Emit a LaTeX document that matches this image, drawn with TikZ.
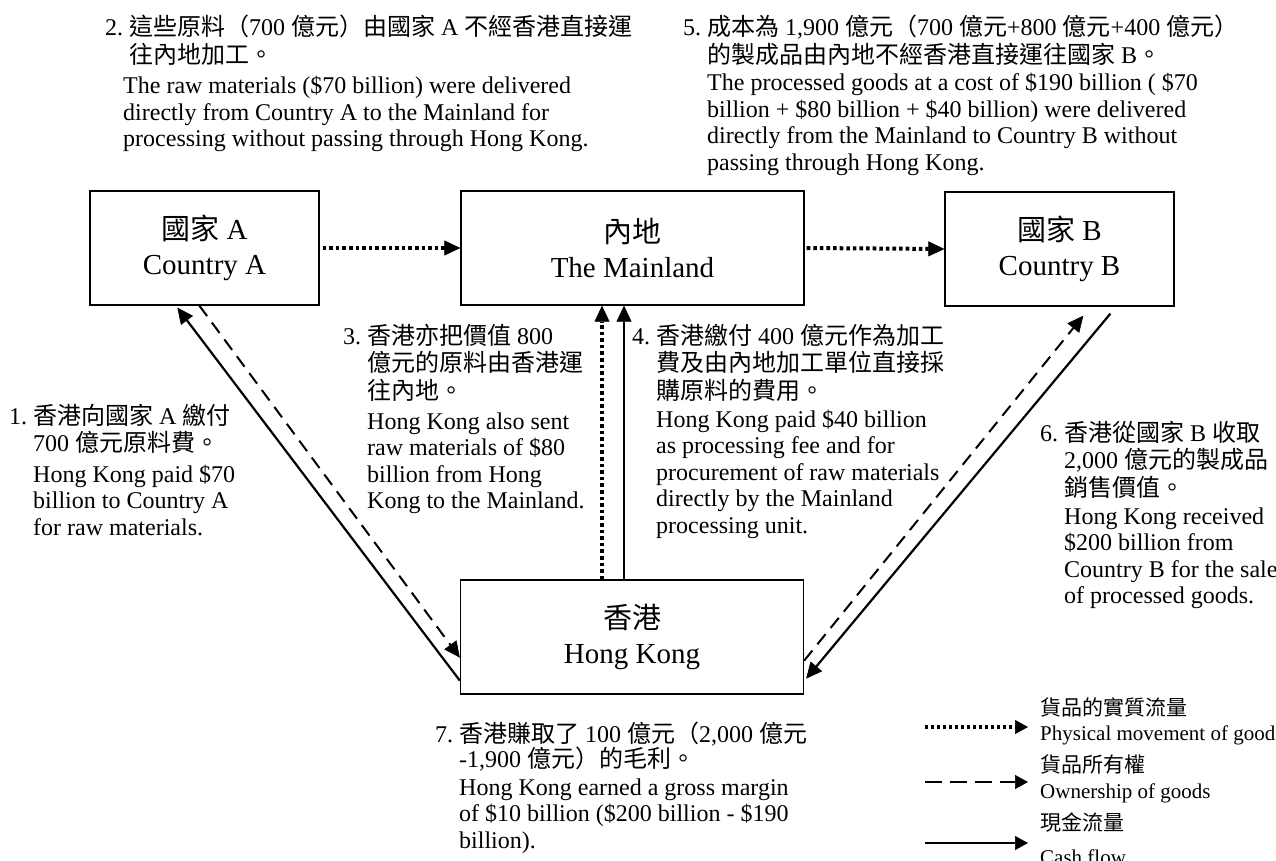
\documentclass[tikz,border=0pt]{standalone}
\usepackage{fontspec}
\setmainfont{Liberation Serif}
\newfontfamily\cjkfont{Noto Sans CJK TC}
\usetikzlibrary{arrows.meta,calc}
\newcommand\zh[1]{{\cjkfont #1}}
\tikzset{
  box/.style={draw, line width=1.3pt, inner sep=0pt, minimum width=229pt, minimum height=114pt, align=center, font=\fontsize{29}{35}\selectfont},
  wbox/.style={box, minimum width=343pt},
  body/.style={inner sep=0pt, anchor=base west, align=left, font=\fontsize{24}{26.5}\selectfont},
  bodyzh/.style={body, font=\fontsize{24}{27.5}\selectfont},
  leg/.style={inner sep=0pt, anchor=base west, font=\fontsize{21}{23}\selectfont},
  tip/.style={-{Triangle[length=16pt,width=15pt,line width=0.6pt]}},
  dotline/.style={tip, line width=4pt, dash pattern=on 3.6pt off 3pt},
  dashline/.style={tip, line width=2pt, dash pattern=on 13pt off 8pt},
  cashline/.style={tip, line width=2.2pt},
  legtip/.style={-{Triangle[length=13pt,width=14pt,line width=0.6pt]}},
  legdot/.style={legtip, line width=3.2pt, dash pattern=on 3pt off 3pt},
  legdash/.style={legtip, line width=2.2pt, dash pattern=on 17pt off 8pt},
  legcash/.style={legtip, line width=2.4pt},
}
\begin{document}
\begin{tikzpicture}[x=1pt,y=-1pt]
\useasboundingbox (0,0) rectangle (1276,861);

% boxes
\node[box]  (A)  at (204.5,248) {\zh{國家} A\\Country A};
\node[wbox] (M)  at (632.5,248) {\zh{內地}\\The Mainland};
\node[box]  (B)  at (1059.5,249) {\zh{國家} B\\Country B};
\node[wbox] (HK) at (632,637) {\zh{香港}\\Hong Kong};

% connectors
\draw[dotline] ([xshift=3pt]A.east) -- (M.west);
\draw[dotline] ([xshift=2pt]M.east) -- (B.west);
\draw[dotline] ([xshift=-30pt]HK.north) -- ([xshift=-30.5pt]M.south);
\draw[cashline] ([xshift=-8pt]HK.north) -- ([xshift=-8.5pt]M.south);
\draw[cashline] ([yshift=14pt]HK.south west) -- ([xshift=88pt,yshift=-2pt]A.south west);
\draw[dashline] ([xshift=110pt]A.south west) -- ([yshift=37pt]HK.south west);
\draw[dashline] ([yshift=34pt]HK.south east) -- ([xshift=139pt,yshift=-9pt]B.south west);
\draw[cashline] ([xshift=166pt,yshift=-7pt]B.south west) -- ([xshift=2pt,yshift=16pt]HK.south east);

% text blocks (anchor = baseline of the last line)
\node[bodyzh] (t1z) at (33,451.5) {\llap{1.\hspace{6pt}}\zh{香港向國家} A \zh{繳付}\\700 \zh{億元原料費。}};
\node[body]   (t1e) at (33,535) {Hong Kong paid \$70\\billion to Country A\\for raw materials.};

\node[bodyzh] (t2z) at (129,63.5) {\llap{2.\hspace{6pt}}\zh{這些原料（}700 \zh{億元）由國家} A \zh{不經香港直接運}\\\zh{往內地加工。}};
\node[body]   (t2e) at (123,147) {The raw materials (\$70 billion) were delivered\\directly from Country A to the Mainland for\\processing without passing through Hong Kong.};

\node[bodyzh] (t3z) at (367,399) {\llap{3.\hspace{6pt}}\zh{香港亦把價值} 800\\\zh{億元的原料由香港運}\\\zh{往內地。}};
\node[body]   (t3e) at (367,508.5) {Hong Kong also sent\\raw materials of \$80\\billion from Hong\\Kong to the Mainland.};

\node[bodyzh] (t4z) at (656,399) {\llap{4.\hspace{6pt}}\zh{香港繳付} 400 \zh{億元作為加工}\\\zh{費及由內地加工單位直接採}\\\zh{購原料的費用。}};
\node[body]   (t4e) at (656,533) {Hong Kong paid \$40 billion\\as processing fee and for\\procurement of raw materials\\directly by the Mainland\\processing unit.};

\node[bodyzh] (t5z) at (707,63.5) {\llap{5.\hspace{6pt}}\zh{成本為} 1,900 \zh{億元（}700 \zh{億元}+800 \zh{億元}+400 \zh{億元）}\\\zh{的製成品由內地不經香港直接運往國家} B\zh{。}};
\node[body]   (t5e) at (707,170.5) {The processed goods at a cost of \$190 billion ( \$70\\billion + \$80 billion + \$40 billion) were delivered\\directly from the Mainland to Country B without\\passing through Hong Kong.};

\node[bodyzh] (t6z) at (1064,496) {\llap{6.\hspace{6pt}}\zh{香港從國家} B \zh{收取}\\2,000 \zh{億元的製成品}\\\zh{銷售價值。}};
\node[body]   (t6e) at (1064,603.5) {Hong Kong received\\\$200 billion from\\Country B for the sale\\of processed goods.};

\node[body, font=\fontsize{24}{25}\selectfont] (t7z) at (459,767) {\llap{7.\hspace{6pt}}\zh{香港賺取了} 100 \zh{億元（}2,000 \zh{億元}\\-1,900 \zh{億元）的毛利。}};
\node[body]   (t7e) at (459,848) {Hong Kong earned a gross margin\\of \$10 billion (\$200 billion - \$190\\billion).};

% legend
\coordinate (lg1a) at (925,727); \coordinate (lg1b) at (1028,727);
\coordinate (lg2a) at (925,782); \coordinate (lg2b) at (1028,782);
\coordinate (lg3a) at (925,843); \coordinate (lg3b) at (1028,843);
\draw[legdot] (lg1a) -- (lg1b);
\draw[legdash] (lg2a) -- (lg2b);
\draw[legcash] (lg3a) -- (lg3b);
\node[leg] (lz1) at (1040,715) {\zh{貨品的實質流量}};
\node[leg] (le1) at (1040,740) {Physical movement of good};
\node[leg] (lz2) at (1040,772) {\zh{貨品所有權}};
\node[leg] (le2) at (1040,798) {Ownership of goods};
\node[leg] (lz3) at (1040,830) {\zh{現金流量}};
\node[leg] (le3) at (1040,864) {Cash flow};
\end{tikzpicture}
\end{document}
